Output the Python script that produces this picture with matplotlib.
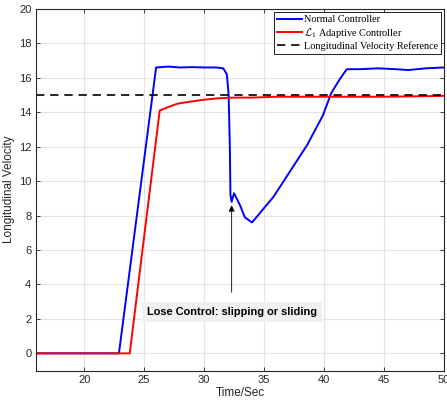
import matplotlib
matplotlib.use("Agg")
import matplotlib.pyplot as plt

# values
t_normal = [16, 22.9, 26.0, 27.0, 28.0, 29.0, 30.0, 31.0, 31.6, 31.9, 32.05, 32.15, 32.2,
            32.3, 32.5, 33.0, 33.4, 34.0, 35.8, 37.2, 38.6, 39.9, 40.6, 41.3, 41.9,
            43.0, 44.5, 46.0, 47.0, 48.5, 50]
v_normal = [0, 0, 16.6, 16.65, 16.6, 16.62, 16.6, 16.6, 16.55, 16.2, 15.0, 12.0, 9.2,
            8.8, 9.3, 8.6, 7.9, 7.6, 9.1, 10.6, 12.1, 13.8, 15.1, 15.9, 16.5,
            16.5, 16.55, 16.5, 16.45, 16.55, 16.6]

t_l1 = [16, 23.8, 26.3, 27.0, 27.8, 28.7, 29.7, 31.0, 32.4, 34.0, 36.0, 40.0, 45.0, 50]
v_l1 = [0, 0, 14.1, 14.3, 14.5, 14.6, 14.7, 14.8, 14.85, 14.85, 14.9, 14.9, 14.9, 14.95]

v_ref = 15.0
x_ticks = [20, 25, 30, 35, 40, 45, 50]
y_ticks = list(range(0, 21, 2))

annot_text = "Lose Control: slipping or sliding"
annot_xy = (32.3, 8.6)
annot_text_xy = (32.3, 2.4)

plt.rcParams['mathtext.fontset'] = 'cm'

fig = plt.figure(figsize=(4.47, 4.05), dpi=100)
ax = fig.add_axes([0.081, 0.085, 0.912, 0.893])

ax.plot(t_normal, v_normal, color='#0000ff', lw=1.4, label='Normal Controller')
ax.plot(t_l1, v_l1, color='#ff0000', lw=1.4, label=r'$\mathcal{L}_1$ Adaptive Controller')
ax.axhline(v_ref, color='black', lw=1.2, ls=(0, (5, 3.5)), label='Longitudinal Velocity Reference')

ax.set_xlim(16, 50)
ax.set_ylim(-1, 20)
ax.set_xticks(x_ticks)
ax.set_yticks(y_ticks)
ax.grid(True, color='#e3e3e3', lw=0.8)
ax.set_axisbelow(True)
ax.tick_params(direction='in', top=True, right=True, labelsize=8, colors='#262626',
               length=3, width=0.6)
for lbl in ax.get_xticklabels() + ax.get_yticklabels():
    lbl.set_family('Liberation Sans')
for s in ax.spines.values():
    s.set_color('#262626')
    s.set_linewidth(0.8)

ax.set_xlabel('Time/Sec', fontsize=8.5, family='Liberation Sans', color='#262626', labelpad=1)
ax.set_ylabel('Longitudinal Velocity', fontsize=8.5, family='Liberation Sans', color='#262626',
              labelpad=3)

ax.annotate(annot_text, xy=annot_xy, xytext=annot_text_xy,
            fontsize=7.9, fontweight='bold', family='Liberation Sans', ha='center', va='center',
            bbox=dict(boxstyle='square,pad=0.45', fc='#f0f0f0', ec='none'),
            arrowprops=dict(arrowstyle='-|>', color='black', lw=0.6, mutation_scale=9,
                            shrinkA=7, shrinkB=0))

leg = ax.legend(loc='upper right', prop={'family': 'Liberation Serif', 'size': 7.4},
                fancybox=False, edgecolor='black', framealpha=1, borderpad=0.3,
                handlelength=2.4, handletextpad=0.2, labelspacing=0.15, borderaxespad=0.3)
leg.get_frame().set_linewidth(0.6)

fig.savefig('out.png', dpi=100)
